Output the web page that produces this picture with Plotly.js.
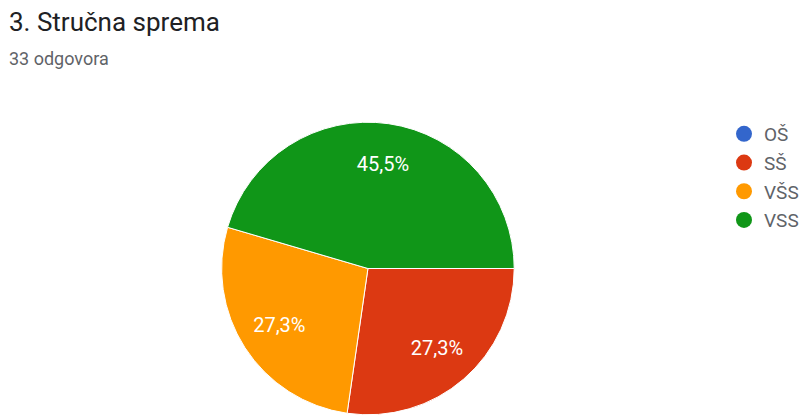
<!DOCTYPE html>
<html>
<head>
<meta charset="utf-8">
<script src="https://cdn.plot.ly/plotly-3.0.1.min.js"></script>
<style>html,body{margin:0;padding:0;background:#fff;}#chart{width:804px;height:417px;}</style>
</head>
<body>
<div id="chart"></div>
<script>
const categories = ["OŠ", "SŠ", "VŠS", "VSS"];
const counts = [0, 9, 9, 15];
const colors = ["#3366cc", "#dc3912", "#ff9900", "#109618"];
const titleText = "3. Stručna sprema";
const subtitleText = "33 odgovora";

const pieDomain = {x: [225/804, 522/804], y: [0, 297/417]};

const pie = {
  type: "pie",
  labels: categories,
  values: counts,
  sort: false,
  direction: "clockwise",
  rotation: 90,
  marker: {colors: colors, line: {color: "#ffffff", width: 1}},
  textinfo: "none",
  hoverinfo: "label+value+percent",
  showlegend: false,
  domain: pieDomain
};

// transparent ring overlay used only to position the percentage labels
const pieLabels = {
  type: "pie",
  labels: categories,
  values: counts,
  sort: false,
  direction: "clockwise",
  rotation: 90,
  hole: 0.44,
  marker: {colors: categories.map(() => "rgba(0,0,0,0)"), line: {width: 0}},
  texttemplate: counts.map(v => v > 0 ? "%{percent:.1%}" : ""),
  textposition: "inside",
  insidetextorientation: "horizontal",
  textfont: {family: "Roboto, Arial, sans-serif", size: 20, color: "#ffffff"},
  hoverinfo: "skip",
  showlegend: false,
  domain: pieDomain
};

const legendTraces = categories.map((c, i) => ({
  type: "scatter",
  mode: "markers",
  x: [null], y: [null],
  name: c,
  legendgroup: "g" + i,
  marker: {symbol: "circle", size: 17, color: colors[i]},
  showlegend: true,
  hoverinfo: "skip"
}));

const layout = {
  width: 804, height: 417,
  margin: {l: 0, r: 0, t: 0, b: 0},
  paper_bgcolor: "#ffffff",
  plot_bgcolor: "#ffffff",
  separators: ", ",
  font: {family: "Roboto, Arial, sans-serif", color: "#444"},
  xaxis: {visible: false, domain: [0.99, 1]},
  yaxis: {visible: false, domain: [0.99, 1]},
  showlegend: true,
  legend: {
    x: 735/804, y: 1 - 115/417, xanchor: "left", yanchor: "top",
    font: {family: "Roboto, Arial, sans-serif", size: 19, color: "#5f6368"},
    itemwidth: 30, tracegroupgap: 1, bgcolor: "rgba(0,0,0,0)"
  },
  annotations: [
    {text: titleText, xref: "paper", yref: "paper", x: 7/804, y: 1 - 22/417,
     xanchor: "left", yanchor: "middle", showarrow: false,
     font: {family: "Roboto, Arial, sans-serif", size: 26, color: "#202124"}},
    {text: subtitleText, xref: "paper", yref: "paper", x: 7/804, y: 1 - 58/417,
     xanchor: "left", yanchor: "middle", showarrow: false,
     font: {family: "Roboto, Arial, sans-serif", size: 18, color: "#5f6368"}}
  ]
};

Plotly.newPlot("chart", [pie, pieLabels].concat(legendTraces), layout, {displayModeBar: false, staticPlot: true});
</script>
</body>
</html>
